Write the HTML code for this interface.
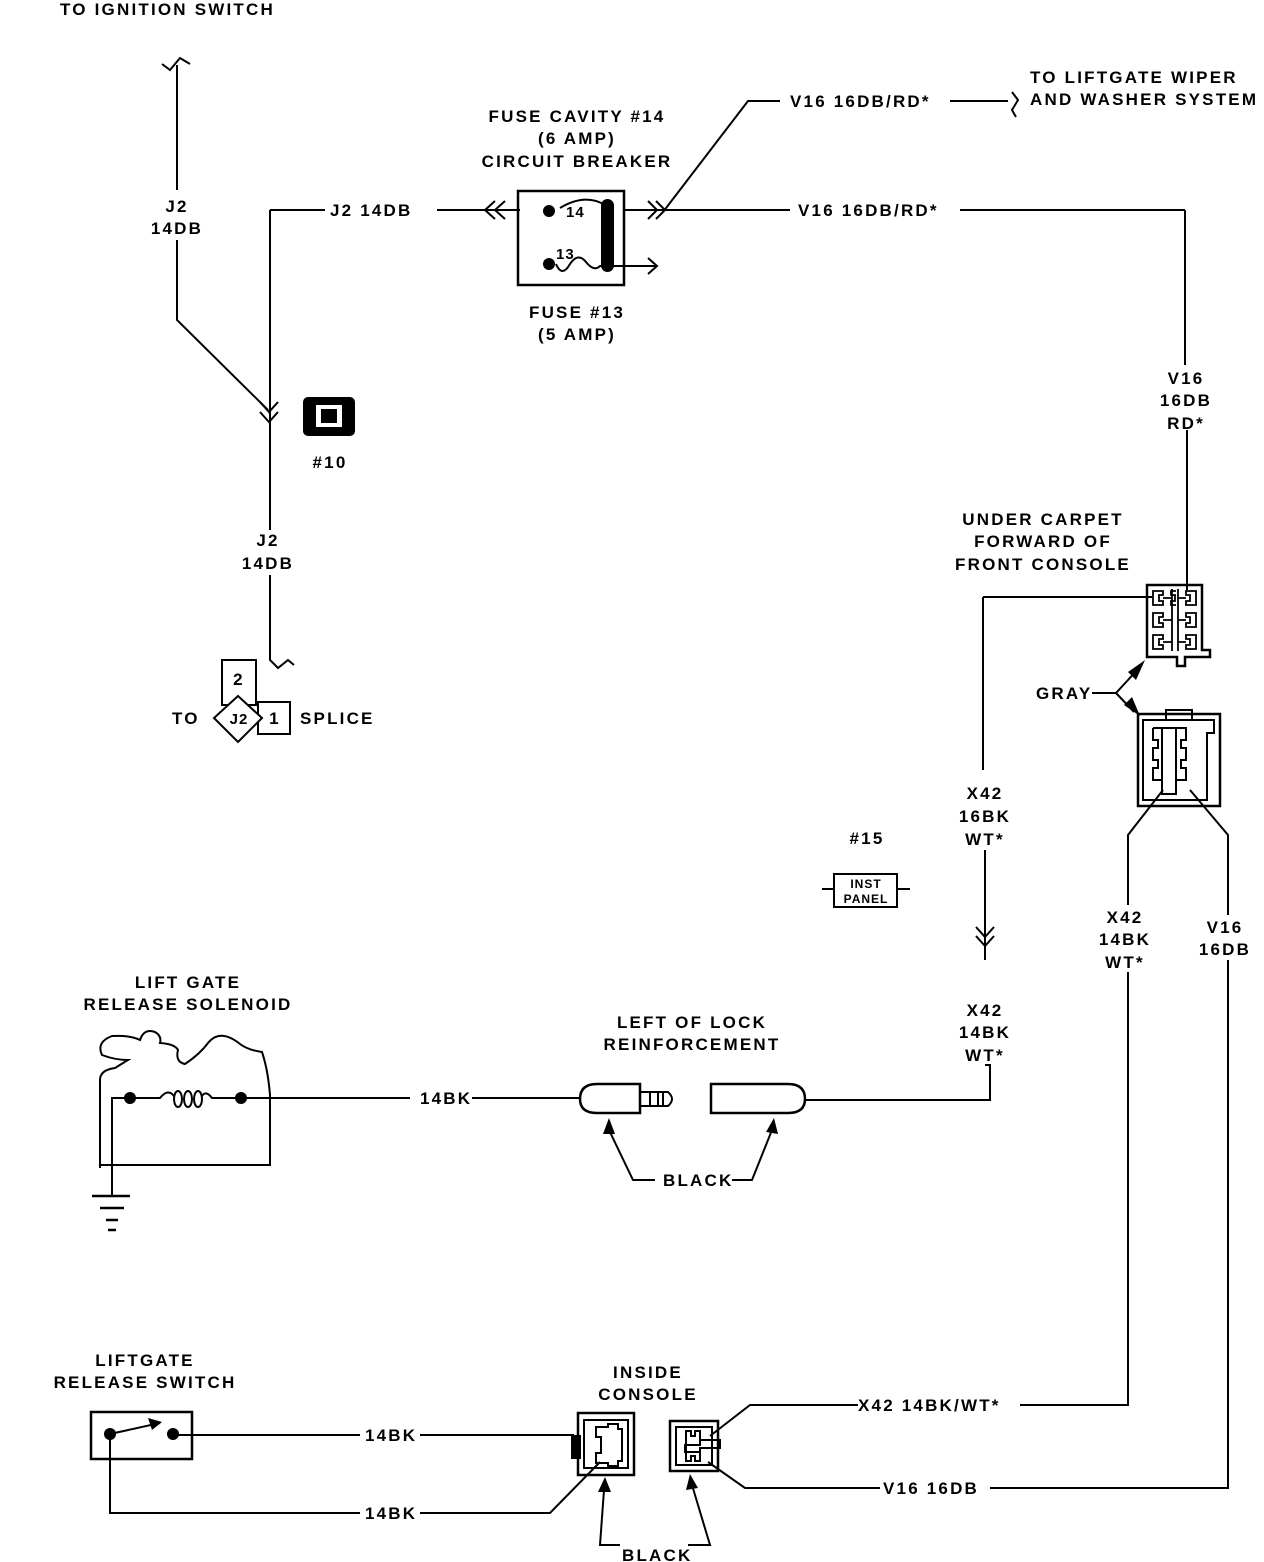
<!DOCTYPE html>
<html><head><meta charset="utf-8"><style>
html,body{margin:0;padding:0;background:#fff;}
svg{display:block;}
text{font-family:"Liberation Sans",sans-serif;font-size:17px;font-weight:bold;letter-spacing:2.2px;fill:#000;}
.m{text-anchor:middle;}
</style></head><body>
<svg width="1264" height="1562" viewBox="0 0 1264 1562" xmlns="http://www.w3.org/2000/svg">
<g stroke="#000" stroke-width="2" fill="none">
<!-- ignition wire -->
<path d="M162 64 L170 70 L180 58 L190 64"/>
<path d="M177 65 L177 190 M177 240 L177 320 L268 410"/>
<path d="M260 402 L269 412 L278 402 M260 412 L269 422 L278 412"/>
<path d="M270 210 L270 530 M270 575 L270 660 L278 668 L288 660 L294 665"/>
<path d="M270 210 L325 210 M437 210 L520 210"/>
<path d="M495 201 L485 210 L495 219 M505 201 L495 210 L505 219"/>
<!-- fuse box -->
<rect x="518" y="191" width="106" height="94" stroke-width="2.5"/>
<path d="M560 208 Q585 193 605 205"/>
<path d="M556 264 Q562 278 570 264 Q578 252 586 262 Q594 272 600 266 L612 266 L657 266 M648 258 L657 266 L648 274"/>
<path d="M624 210 L790 210 M960 210 L1185 210"/>
<path d="M648 201 L657 210 L648 219 M656 201 L665 210 L656 219"/>
<path d="M663 212 L748 101 L780 101 M950 101 L1008 101 M1012 92 L1018 100 L1012 110 L1016 117"/>
<path d="M1185 210 L1185 365 M1187 430 L1187 590"/>
<!-- splice -->
<rect x="222" y="660" width="34" height="45"/>
<rect x="258" y="702" width="32" height="32"/>
<path d="M238 696 L262 718 L238 742 L214 718 Z" fill="#fff"/>
<!-- upper connector -->
<path d="M983 597 L1152 597 M983 597 L983 770 M985 850 L985 960 M985 1065 L990 1065 L990 1100 L805 1100"/>
<path d="M976 927 L985 937 L994 927 M976 936 L985 946 L994 936"/>
<path d="M1147 585 L1202 585 L1202 650 L1210 650 L1210 657 L1185 657 L1185 666 L1177 666 L1177 657 L1147 657 Z" stroke-width="2.5"/>
<path d="M1153 591 h10 v4 h-4 v6 h4 v4 h-10 Z M1176 591 h-5 v4 h4 v6 h-4 v4 h5 M1196 591 h-10 v4 h4 v6 h-4 v4 h10 Z" stroke-width="1.8"/>
<path d="M1153 613 h10 v4 h-4 v6 h4 v4 h-10 Z M1196 613 h-10 v4 h4 v6 h-4 v4 h10 Z M1153 635 h10 v4 h-4 v6 h4 v4 h-10 Z M1196 635 h-10 v4 h4 v6 h-4 v4 h10 Z" stroke-width="1.8"/>
<path d="M1172 589 v62 M1178 589 v62" stroke-width="1.8"/>
<path d="M1163 598 h9 M1178 598 h8 M1163 620 h9 M1178 620 h8 M1163 642 h9 M1178 642 h8" stroke-width="1.8"/>
<path d="M1092 693 L1116 693 L1140 667 M1116 693 L1134 712"/>
<!-- lower connector -->
<rect x="1138" y="714" width="82" height="92" stroke-width="2.5"/>
<rect x="1166" y="710" width="26" height="10"/>
<path d="M1143 720 L1214 720 L1214 733 L1207 733 L1207 800 L1143 800 Z"/>
<rect x="1162" y="728" width="14" height="66" stroke-width="2"/>
<path d="M1153 728 h9 M1153 728 v12 h5 v8 h-5 v12 h5 v8 h-5 v12 h9 M1176 728 h10 v12 h-5 v8 h5 v12 h-5 v8 h5 v12 h-10"/>
<path d="M1163 790 L1128 835 L1128 905 M1128 972 L1128 1405 L1020 1405 M858 1405 L750 1405 L710 1436"/>
<path d="M1190 790 L1228 835 L1228 915 M1228 960 L1228 1488 L990 1488 M880 1488 L745 1488 L708 1462"/>
<!-- inst panel -->
<path d="M822 889 L835 889 M897 889 L910 889"/>
<rect x="834" y="874" width="63" height="33"/>
<!-- solenoid -->
<path d="M100 1168 L100 1080 Q100 1070 115 1068 L128 1060 Q115 1060 102 1055 Q96 1042 112 1036 Q130 1035 140 1040 Q144 1028 155 1032 Q162 1036 160 1043 Q175 1044 178 1050 Q175 1062 185 1064 Q200 1054 208 1043 Q220 1028 240 1044 Q248 1050 262 1052 Q268 1070 270 1095 L270 1165 L100 1165"/>
<path d="M112 1196 L112 1098 L130 1098 L160 1098 Q168 1088 174 1096"/>
<ellipse cx="178" cy="1099" rx="4" ry="8"/><ellipse cx="188" cy="1099" rx="4" ry="8"/><ellipse cx="198" cy="1099" rx="4" ry="8"/>
<path d="M202 1096 Q206 1090 212 1098 L241 1098 L410 1098 M472 1098 L580 1098"/>
<path d="M92 1196 L130 1196 M100 1208 L124 1208 M106 1220 L118 1220 M108 1230 L116 1230" stroke-width="2.5"/>
<!-- lock connectors -->
<path d="M640 1084 L597 1084 Q580 1084 580 1099 Q580 1113 597 1113 L640 1113 Z" stroke-width="2.5"/>
<path d="M640 1092 L650 1092 L650 1106 L640 1106 M650 1092 L668 1092 Q676 1099 668 1106 L650 1106 M658 1092 V1106 M663 1092 V1106"/>
<path d="M711 1084 L788 1084 Q805 1084 805 1099 Q805 1113 788 1113 L711 1113 Z" stroke-width="2.5"/>
<path d="M609 1130 L633 1180 L655 1180 M732 1180 L752 1180 L772 1130"/>
<!-- switch -->
<rect x="91" y="1412" width="101" height="47" stroke-width="2.5"/>
<path d="M110 1434 L160 1423"/>
<path d="M173 1435 L360 1435 M420 1435 L574 1435"/>
<path d="M110 1434 L110 1513 L360 1513 M420 1513 L550 1513 L600 1462"/>
<!-- console connectors -->
<rect x="578" y="1413" width="56" height="62" stroke-width="2.5"/>
<path d="M584 1420 L628 1420 L628 1468 L584 1468 Z"/>
<path d="M596 1427 h12 v-3 h10 v5 h4 v32 h-4 v5 h-10 v-3 h-12 v-10 h5 v-16 h-5 Z"/>
<rect x="572" y="1436" width="8" height="22" fill="#000"/>
<rect x="670" y="1421" width="48" height="50" stroke-width="2.5"/>
<path d="M676 1427 L712 1427 L712 1465 L676 1465 Z"/>
<path d="M686 1431 h5 v5 h4 v-5 h5 v14 h-15 v7 h15 v-5 v14 h-5 v-5 h-4 v5 h-5 Z"/>
<path d="M700 1440 h20 v8 h-20"/>
<path d="M604 1490 L600 1545 L620 1545 M688 1545 L710 1545 L692 1485"/>
</g>
<!-- filled elements -->
<g fill="#000">
<circle cx="549" cy="211" r="6"/><circle cx="549" cy="264" r="6"/>
<rect x="601" y="199" width="13" height="73" rx="6.5"/>
<rect x="303" y="397" width="52" height="39" rx="5"/>
<circle cx="130" cy="1098" r="6"/><circle cx="241" cy="1098" r="6"/>
<circle cx="110" cy="1434" r="6"/><circle cx="173" cy="1434" r="6"/>
<path d="M148 1418 L162 1422 L152 1430 Z"/>
<path d="M1145 660 L1128 672 L1136 680 Z"/>
<path d="M1140 716 L1124 705 L1132 697 Z"/>
<path d="M609 1118 L603 1134 L615 1134 Z"/>
<path d="M774 1118 L766 1132 L778 1134 Z"/>
<path d="M605 1477 L598 1492 L611 1492 Z"/>
<path d="M690 1474 L686 1490 L698 1488 Z"/>
</g>
<rect x="316" y="405" width="26" height="22" fill="#fff"/>
<rect x="321" y="409" width="16" height="14" fill="#000"/>
<!-- text -->
<text x="60" y="15">TO IGNITION SWITCH</text>
<text x="177" y="212" class="m">J2</text>
<text x="177" y="234" class="m">14DB</text>
<text x="330" y="216">J2 14DB</text>
<text x="577" y="122" class="m">FUSE CAVITY #14</text>
<text x="577" y="144" class="m">(6 AMP)</text>
<text x="577" y="167" class="m">CIRCUIT BREAKER</text>
<text x="566" y="217" style="font-size:15px;letter-spacing:1px">14</text>
<text x="556" y="259" style="font-size:15px;letter-spacing:1px">13</text>
<text x="577" y="318" class="m">FUSE #13</text>
<text x="577" y="340" class="m">(5 AMP)</text>
<text x="790" y="107">V16 16DB/RD*</text>
<text x="1030" y="83">TO LIFTGATE WIPER</text>
<text x="1030" y="105">AND WASHER SYSTEM</text>
<text x="798" y="216">V16 16DB/RD*</text>
<text x="1186" y="384" class="m">V16</text>
<text x="1186" y="406" class="m">16DB</text>
<text x="1186" y="429" class="m">RD*</text>
<text x="330" y="468" class="m">#10</text>
<text x="268" y="546" class="m">J2</text>
<text x="268" y="569" class="m">14DB</text>
<text x="239" y="685" class="m">2</text>
<text x="172" y="724">TO</text>
<text x="239" y="724" class="m" style="font-size:15px;letter-spacing:1px">J2</text>
<text x="275" y="724" class="m">1</text>
<text x="300" y="724">SPLICE</text>
<text x="1043" y="525" class="m">UNDER CARPET</text>
<text x="1043" y="547" class="m">FORWARD OF</text>
<text x="1043" y="570" class="m">FRONT CONSOLE</text>
<text x="1036" y="699">GRAY</text>
<text x="985" y="799" class="m">X42</text>
<text x="985" y="822" class="m">16BK</text>
<text x="985" y="845" class="m">WT*</text>
<text x="867" y="844" class="m">#15</text>
<text x="866" y="888" class="m" style="font-size:12px;letter-spacing:1px">INST</text>
<text x="866" y="903" class="m" style="font-size:12px;letter-spacing:1px">PANEL</text>
<text x="1125" y="923" class="m">X42</text>
<text x="1125" y="945" class="m">14BK</text>
<text x="1125" y="968" class="m">WT*</text>
<text x="1225" y="933" class="m">V16</text>
<text x="1225" y="955" class="m">16DB</text>
<text x="985" y="1016" class="m">X42</text>
<text x="985" y="1038" class="m">14BK</text>
<text x="985" y="1061" class="m">WT*</text>
<text x="188" y="988" class="m">LIFT GATE</text>
<text x="188" y="1010" class="m">RELEASE SOLENOID</text>
<text x="692" y="1028" class="m">LEFT OF LOCK</text>
<text x="692" y="1050" class="m">REINFORCEMENT</text>
<text x="420" y="1104">14BK</text>
<text x="663" y="1186">BLACK</text>
<text x="145" y="1366" class="m">LIFTGATE</text>
<text x="145" y="1388" class="m">RELEASE SWITCH</text>
<text x="648" y="1378" class="m">INSIDE</text>
<text x="648" y="1400" class="m">CONSOLE</text>
<text x="858" y="1411">X42 14BK/WT*</text>
<text x="883" y="1494">V16 16DB</text>
<text x="365" y="1441">14BK</text>
<text x="365" y="1519">14BK</text>
<text x="622" y="1561">BLACK</text>
</svg>
</body></html>
